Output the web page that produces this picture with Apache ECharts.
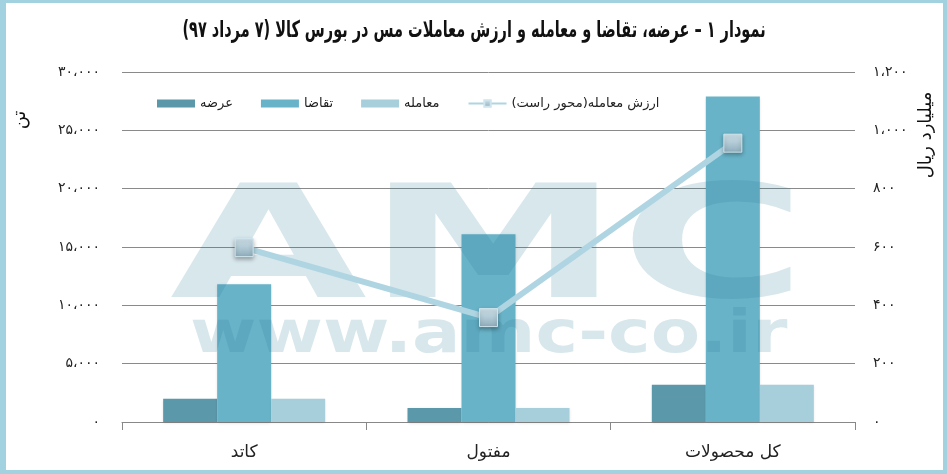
<!DOCTYPE html>
<html>
<head>
<meta charset="utf-8">
<script src="https://cdn.jsdelivr.net/npm/echarts@6/dist/echarts.min.js"></script>
<style>
html,body{margin:0;padding:0;background:#fff;}
#c{width:947px;height:474px;}
</style>
</head>
<body>
<div id="c"></div>
<script>
var categories = ['کاتد', 'مفتول', 'کل محصولات'];
var supplyValues = [2000, 1200, 3200];
var demandValues = [11800, 16100, 27900];
var tradeValues = [2000, 1200, 3200];
var tradeValueBillionRial = [598, 358, 956];
var seriesNames = ['عرضه', 'تقاضا', 'معامله', 'ارزش معامله(محور راست)'];
var titleText = 'نمودار ۱ – عرضه، تقاضا و معامله و ارزش معاملات مس در بورس کالا (۷ مرداد ۹۷)';
var leftAxisName = 'تن';
var rightAxisName = 'میلیارد ریال';

function fa(n) {
  var s = String(Math.round(n)).replace(/\B(?=(\d{3})+(?!\d))/g, '،');
  return s.replace(/\d/g, function (d) { return '۰۱۲۳۴۵۶۷۸۹'[+d]; });
}

var FONT = '"DejaVu Sans", sans-serif';
var WM = 'rgba(40,120,150,0.18)';
var chart = echarts.init(document.getElementById('c'));
var markerFill = new echarts.graphic.LinearGradient(0, 0, 0, 1, [
  {offset: 0, color: '#d3e6ee'}, {offset: 1, color: '#8eacbb'}
]);

chart.setOption({
  animation: false,
  backgroundColor: '#fff',
  textStyle: {fontFamily: FONT},
  legend: {
    left: 152,
    top: 92,
    itemWidth: 38,
    itemHeight: 8,
    itemGap: 28,
    textStyle: {fontFamily: FONT, fontSize: 13, color: '#222'},
    data: [
      {name: seriesNames[0], icon: 'rect'},
      {name: seriesNames[1], icon: 'rect'},
      {name: seriesNames[2], icon: 'rect'},
      {name: seriesNames[3]}
    ]
  },
  grid: {left: 122, right: 92, top: 72, bottom: 52},
  xAxis: {
    type: 'category',
    data: categories,
    axisLine: {show: true, lineStyle: {color: '#888', width: 1}},
    axisTick: {show: true, alignWithLabel: false, length: 8, lineStyle: {color: '#888'}},
    axisLabel: {color: '#222', fontSize: 17, margin: 22, fontFamily: FONT}
  },
  yAxis: [
    {
      type: 'value', min: 0, max: 30000, interval: 5000,
      axisLine: {show: false}, axisTick: {show: false},
      splitLine: {show: true, lineStyle: {color: '#8a8a8a', width: 1}},
      axisLabel: {color: '#222', fontSize: 14, margin: 22, formatter: fa, fontFamily: FONT}
    },
    {
      type: 'value', min: 0, max: 1200, interval: 200,
      axisLine: {show: false}, axisTick: {show: false},
      splitLine: {show: false},
      axisLabel: {color: '#222', fontSize: 14, margin: 18, formatter: fa, fontFamily: FONT}
    }
  ],
  series: [
    {
      name: seriesNames[0], type: 'bar', data: supplyValues, barWidth: 54, barGap: '0%', z: 2,
      itemStyle: {color: '#5b98aa', shadowColor: 'rgba(0,0,0,0.15)', shadowBlur: 3, shadowOffsetY: 1}
    },
    {
      name: seriesNames[1], type: 'bar', data: demandValues, barWidth: 54, barGap: '0%', z: 2,
      itemStyle: {color: '#69b3c8', shadowColor: 'rgba(0,0,0,0.15)', shadowBlur: 3, shadowOffsetY: 1}
    },
    {
      name: seriesNames[2], type: 'bar', data: tradeValues, barWidth: 54, barGap: '0%', z: 2,
      itemStyle: {color: '#a6cedb', shadowColor: 'rgba(0,0,0,0.12)', shadowBlur: 3, shadowOffsetY: 1}
    },
    {
      name: seriesNames[3], type: 'line', yAxisIndex: 1, data: tradeValueBillionRial, z: 6,
      symbol: 'rect', symbolSize: 18,
      lineStyle: {color: '#b0d5e2', width: 6},
      itemStyle: {color: markerFill, borderColor: '#cfe4ec', borderWidth: 1,
        shadowColor: 'rgba(0,0,0,0.3)', shadowBlur: 4, shadowOffsetY: 2}
    }
  ],
  graphic: [
    {type: 'text', z: 10, x: 474, y: 31, scaleX: 0.63,
      style: {text: titleText, fontFamily: FONT, fontWeight: 'bold', fontSize: 23, fill: '#111',
        align: 'center', verticalAlign: 'middle'}},
    {type: 'text', z: 3, silent: true, x: 170, y: 178, scaleX: 1.62,
      style: {text: 'AMC', fontFamily: FONT, fontWeight: 'bold', fontSize: 157, fill: WM,
        align: 'left', verticalAlign: 'top'}},
    {type: 'text', z: 3, silent: true, x: 190, y: 308, scaleX: 1.24,
      style: {text: 'www.amc-co.ir', fontFamily: FONT, fontWeight: 'bold', fontSize: 58, fill: WM,
        align: 'left', verticalAlign: 'top'}},
    {type: 'text', z: 10, x: 20, y: 120, rotation: Math.PI / 2,
      style: {text: leftAxisName, fontFamily: FONT, fontSize: 18, fill: '#111', align: 'center', verticalAlign: 'middle'}},
    {type: 'text', z: 10, x: 926, y: 135, rotation: Math.PI / 2,
      style: {text: rightAxisName, fontFamily: FONT, fontSize: 18, fill: '#111', align: 'center', verticalAlign: 'middle'}},
    {type: 'rect', z: 20, shape: {x: 0, y: 0, width: 6, height: 474}, style: {fill: '#a2d2df'}},
    {type: 'rect', z: 20, shape: {x: 943, y: 0, width: 4, height: 474}, style: {fill: '#a2d2df'}},
    {type: 'rect', z: 20, shape: {x: 0, y: 0, width: 947, height: 3}, style: {fill: '#a2d2df'}},
    {type: 'rect', z: 20, shape: {x: 0, y: 470, width: 947, height: 4}, style: {fill: '#a2d2df'}}
  ]
});
</script>
</body>
</html>
